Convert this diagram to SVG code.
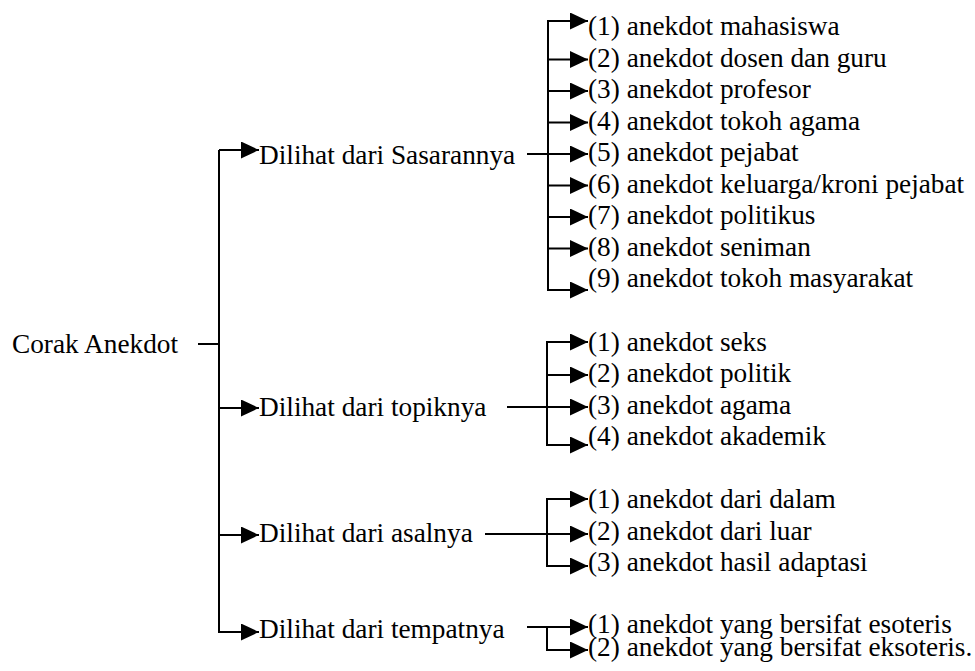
<svg xmlns="http://www.w3.org/2000/svg" width="975" height="671" viewBox="0 0 975 671">
<style>
.c line{stroke:#000;stroke-width:2;fill:none}
</style>
<defs>
<marker id="ah" markerUnits="userSpaceOnUse" markerWidth="19" markerHeight="18" refX="18" refY="8.5" orient="auto" viewBox="0 0 19 18">
<path d="M0,0 L18,8.5 L0,17 z" fill="#000"/>
</marker>
</defs>
<rect width="975" height="671" fill="#fff"/>
<g id="connectors" class="c">
<line x1="198" y1="344" x2="219" y2="344"/>
<line x1="219" y1="150" x2="219" y2="632"/>
<line x1="219" y1="150" x2="259" y2="150" marker-end="url(#ah)"/>
<line x1="219" y1="408" x2="259" y2="408" marker-end="url(#ah)"/>
<line x1="219" y1="535" x2="259" y2="535" marker-end="url(#ah)"/>
<line x1="218" y1="632" x2="259" y2="632" marker-end="url(#ah)"/>
<line x1="527" y1="154" x2="548" y2="154"/>
<line x1="548" y1="21" x2="548" y2="290"/>
<line x1="547" y1="21" x2="588" y2="21" marker-end="url(#ah)"/>
<line x1="548" y1="59.5" x2="588" y2="59.5" marker-end="url(#ah)"/>
<line x1="548" y1="91" x2="588" y2="91" marker-end="url(#ah)"/>
<line x1="548" y1="122.5" x2="588" y2="122.5" marker-end="url(#ah)"/>
<line x1="548" y1="154" x2="588" y2="154" marker-end="url(#ah)"/>
<line x1="548" y1="185.5" x2="588" y2="185.5" marker-end="url(#ah)"/>
<line x1="548" y1="217" x2="588" y2="217" marker-end="url(#ah)"/>
<line x1="548" y1="248.5" x2="588" y2="248.5" marker-end="url(#ah)"/>
<line x1="547" y1="290" x2="588" y2="290" marker-end="url(#ah)"/>
<line x1="507" y1="407" x2="547" y2="407"/>
<line x1="547" y1="342" x2="547" y2="445"/>
<line x1="546" y1="342" x2="588" y2="342" marker-end="url(#ah)"/>
<line x1="547" y1="375" x2="588" y2="375" marker-end="url(#ah)"/>
<line x1="547" y1="407" x2="588" y2="407" marker-end="url(#ah)"/>
<line x1="546" y1="445" x2="588" y2="445" marker-end="url(#ah)"/>
<line x1="485" y1="534" x2="547" y2="534"/>
<line x1="547" y1="499" x2="547" y2="566"/>
<line x1="546" y1="499" x2="588" y2="499" marker-end="url(#ah)"/>
<line x1="547" y1="534" x2="588" y2="534" marker-end="url(#ah)"/>
<line x1="546" y1="566" x2="588" y2="566" marker-end="url(#ah)"/>
<line x1="527" y1="627" x2="547" y2="627"/>
<line x1="547" y1="627" x2="547" y2="650"/>
<line x1="547" y1="627" x2="588" y2="627" marker-end="url(#ah)"/>
<line x1="546" y1="650" x2="588" y2="650" marker-end="url(#ah)"/>
</g>
<g font-family="Liberation Serif, serif" font-size="27.3" fill="#000">
<g id="root"><text x="12" y="353">Corak Anekdot</text></g>
<g id="sasarannya"><text x="259" y="164">Dilihat dari Sasarannya</text></g>
<g id="topiknya"><text x="259" y="416">Dilihat dari topiknya</text></g>
<g id="asalnya"><text x="259" y="542">Dilihat dari asalnya</text></g>
<g id="tempatnya"><text x="259" y="638">Dilihat dari tempatnya</text></g>
<g id="s1"><text x="588" y="35">(1) anekdot mahasiswa</text></g>
<g id="s2"><text x="588" y="66.5">(2) anekdot dosen dan guru</text></g>
<g id="s3"><text x="588" y="98">(3) anekdot profesor</text></g>
<g id="s4"><text x="588" y="129.5">(4) anekdot tokoh agama</text></g>
<g id="s5"><text x="588" y="161">(5) anekdot pejabat</text></g>
<g id="s6"><text x="588" y="192.5">(6) anekdot keluarga/kroni pejabat</text></g>
<g id="s7"><text x="588" y="224">(7) anekdot politikus</text></g>
<g id="s8"><text x="588" y="255.5">(8) anekdot seniman</text></g>
<g id="s9"><text x="588" y="287">(9) anekdot tokoh masyarakat</text></g>
<g id="t1"><text x="588" y="350.5">(1) anekdot seks</text></g>
<g id="t2"><text x="588" y="382">(2) anekdot politik</text></g>
<g id="t3"><text x="588" y="413.5">(3) anekdot agama</text></g>
<g id="t4"><text x="588" y="445">(4) anekdot akademik</text></g>
<g id="a1"><text x="588" y="508">(1) anekdot dari dalam</text></g>
<g id="a2"><text x="588" y="539.5">(2) anekdot dari luar</text></g>
<g id="a3"><text x="588" y="571">(3) anekdot hasil adaptasi</text></g>
<g id="p1"><text x="588" y="633">(1) anekdot yang bersifat esoteris</text></g>
<g id="p2"><text x="588" y="656">(2) anekdot yang bersifat eksoteris.</text></g>
</g>
</svg>
